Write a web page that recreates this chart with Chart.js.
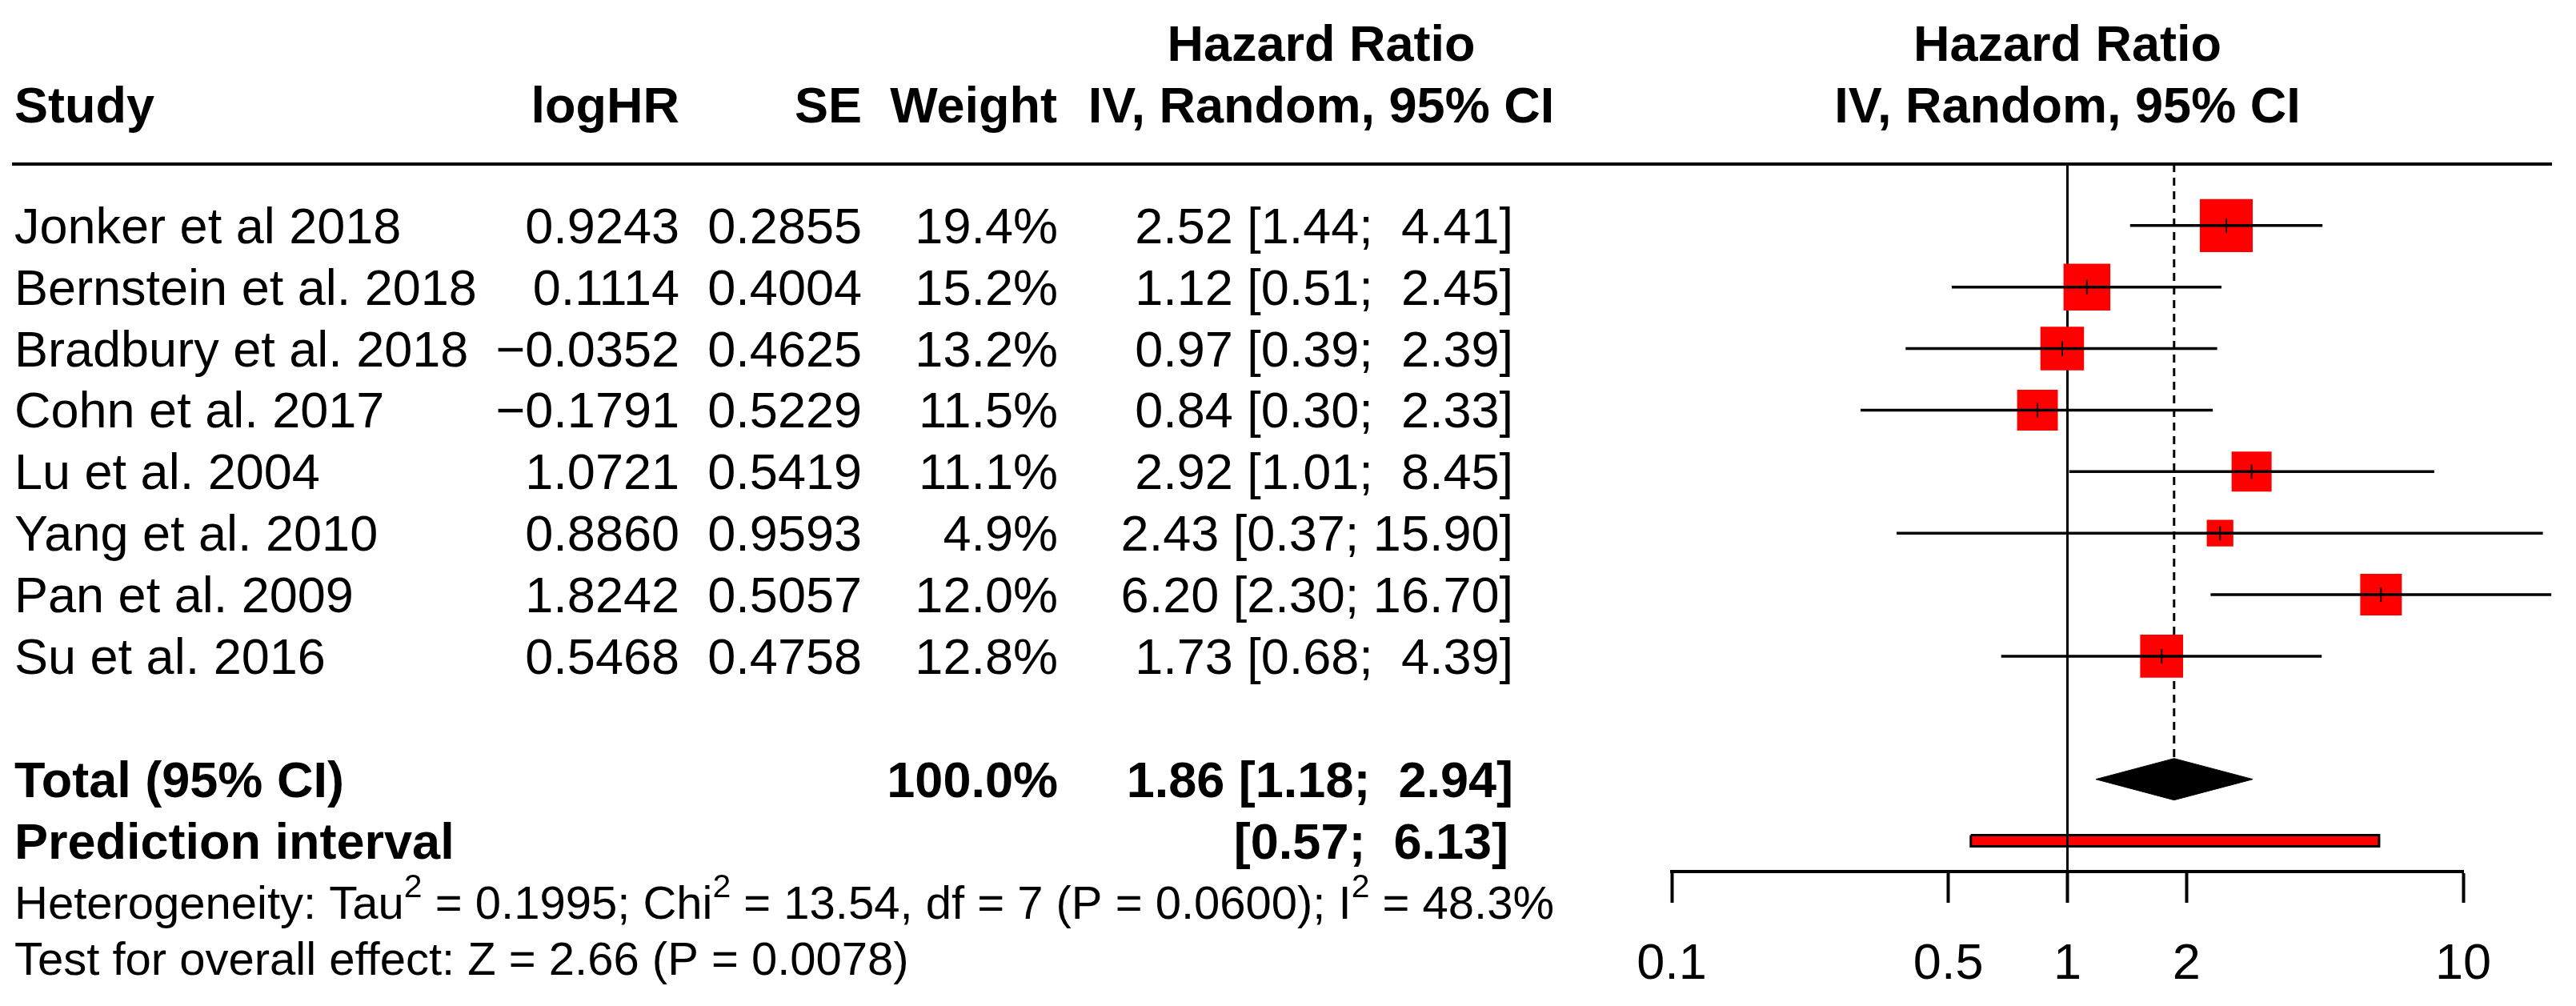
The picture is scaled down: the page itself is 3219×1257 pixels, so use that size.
<!DOCTYPE html>
<html>
<head>
<meta charset="utf-8">
<script src="https://cdn.jsdelivr.net/npm/chart.js@4.4.0/dist/chart.umd.min.js"></script>
<style>
  html, body { margin: 0; padding: 0; background: #fff; }
  canvas { display: block; }
</style>
</head>
<body>
<canvas id="forest" width="3219" height="1257"></canvas>
<script>
// Study data
const studies = ['Jonker et al 2018', 'Bernstein et al. 2018', 'Bradbury et al. 2018', 'Cohn et al. 2017',
                 'Lu et al. 2004', 'Yang et al. 2010', 'Pan et al. 2009', 'Su et al. 2016'];
const logHR = [0.9243, 0.1114, -0.0352, -0.1791, 1.0721, 0.8860, 1.8242, 0.5468];
const seLog = [0.2855, 0.4004, 0.4625, 0.5229, 0.5419, 0.9593, 0.5057, 0.4758];
const weights = [19.4, 15.2, 13.2, 11.5, 11.1, 4.9, 12.0, 12.8];
const hr = [2.52, 1.12, 0.97, 0.84, 2.92, 2.43, 6.20, 1.73];
const ciLow = [1.44, 0.51, 0.39, 0.30, 1.01, 0.37, 2.30, 0.68];
const ciHigh = [4.41, 2.45, 2.39, 2.33, 8.45, 15.90, 16.70, 4.39];

const totalHR = 1.86, totalLow = 1.18, totalHigh = 2.94, totalWeight = 100.0;
const predLow = 0.57, predHigh = 6.13;

const tickVals = [0.1, 0.5, 1, 2, 10];
const tickLabels = ['0.1', '0.5', '1', '2', '10'];

const hetText = [['Heterogeneity: Tau'], ['2', 'sup'], [' = 0.1995; Chi'], ['2', 'sup'],
                 [' = 13.54, df = 7 (P = 0.0600); I'], ['2', 'sup'], [' = 48.3%']];
const testText = 'Test for overall effect: Z = 2.66 (P = 0.0078)';

// rows: studies 0..7, blank 8, total 9, prediction 10
const totalRow = studies.length + 1;
const predRow = studies.length + 2;

const FONT = '"Liberation Sans", Arial, sans-serif';
const FS = 63;
const FS_NOTE = 58;
const diamondH = 0.338;
const predH = 0.091;

const fmt2 = v => v.toFixed(2);
const ciStr = (lo, hi) => '[' + fmt2(lo) + '; ' + (hi < 10 ? ' ' : '') + fmt2(hi) + ']';
const minus = s => s.replace('-', '\u2212');

function txt(ctx, s, x, y, align, bold, size) {
  ctx.font = (bold ? 'bold ' : '') + (size || FS) + 'px ' + FONT;
  ctx.textAlign = align;
  ctx.fillText(s, x, y);
}

const tablePlugin = {
  id: 'table',
  afterDraw(chart) {
    const ctx = chart.ctx;
    const ys = chart.scales.y, xs = chart.scales.x;
    ctx.save();
    ctx.fillStyle = '#000';
    ctx.strokeStyle = '#000';
    ctx.textBaseline = 'alphabetic';

    // header
    const mid = xs.getPixelForValue(1);
    txt(ctx, 'Hazard Ratio', 1651, 76, 'center', true);
    txt(ctx, 'Hazard Ratio', mid, 76, 'center', true);
    txt(ctx, 'Study', 18, 153, 'left', true);
    txt(ctx, 'logHR', 849, 153, 'right', true);
    txt(ctx, 'SE', 1077, 153, 'right', true);
    txt(ctx, 'Weight', 1321, 153, 'right', true);
    txt(ctx, 'IV, Random, 95% CI', 1651, 153, 'center', true);
    txt(ctx, 'IV, Random, 95% CI', mid, 153, 'center', true);

    // rule under header
    ctx.lineWidth = 4;
    ctx.beginPath();
    ctx.moveTo(15, chart.chartArea.top);
    ctx.lineTo(3189, chart.chartArea.top);
    ctx.stroke();

    studies.forEach((s, i) => {
      const by = ys.getPixelForValue(i) + 22;
      txt(ctx, s, 18, by, 'left', false);
      txt(ctx, minus(logHR[i].toFixed(4)), 849, by, 'right', false);
      txt(ctx, seLog[i].toFixed(4), 1077, by, 'right', false);
      txt(ctx, weights[i].toFixed(1) + '%', 1322, by, 'right', false);
      txt(ctx, fmt2(hr[i]) + ' ' + ciStr(ciLow[i], ciHigh[i]), 1891, by, 'right', false);
    });

    let by = ys.getPixelForValue(totalRow) + 22;
    txt(ctx, 'Total (95% CI)', 18, by, 'left', true);
    txt(ctx, totalWeight.toFixed(1) + '%', 1322, by, 'right', true);
    txt(ctx, fmt2(totalHR) + ' ' + ciStr(totalLow, totalHigh), 1891, by, 'right', true);

    by = ys.getPixelForValue(predRow) + 22;
    txt(ctx, 'Prediction interval', 18, by, 'left', true);
    txt(ctx, ciStr(predLow, predHigh), 1885, by, 'right', true);

    // heterogeneity line with superscripts
    let x = 18;
    ctx.textAlign = 'left';
    hetText.forEach(([s, kind]) => {
      if (kind === 'sup') {
        ctx.font = '41px ' + FONT;
        ctx.fillText(s, x, 1148 - 27);
      } else {
        ctx.font = FS_NOTE + 'px ' + FONT;
        ctx.fillText(s, x, 1148);
      }
      x += ctx.measureText(s).width;
    });
    txt(ctx, testText, 18, 1218, 'left', false, FS_NOTE);
    ctx.restore();
  }
};

const lineDs = (data, extra) => Object.assign({
  data, showLine: true, pointRadius: 0, borderColor: '#000', borderWidth: 3.5, clip: false
}, extra);

const datasets = [];
// estimate ticks
datasets.push({
  data: hr.map((v, i) => ({ x: v, y: i })),
  pointStyle: 'line', rotation: 90, pointRadius: 9, borderWidth: 2,
  borderColor: '#000', backgroundColor: '#000', order: 0, clip: false
});
// confidence intervals
studies.forEach((s, i) => {
  datasets.push(lineDs([{ x: ciLow[i], y: i }, { x: ciHigh[i], y: i }], { order: 1 }));
});
// pooled diamond
datasets.push(lineDs([
  { x: totalLow, y: totalRow }, { x: totalHR, y: totalRow - diamondH },
  { x: totalHigh, y: totalRow }, { x: totalHR, y: totalRow + diamondH },
  { x: totalLow, y: totalRow }
], { fill: 'shape', backgroundColor: '#000', borderWidth: 1, order: 1 }));
// weighted squares
datasets.push({
  data: hr.map((v, i) => ({ x: v, y: i })),
  pointStyle: 'rect',
  pointRadius: c => 15 * Math.sqrt(weights[c.dataIndex]) / Math.SQRT2,
  backgroundColor: '#ff0000', borderWidth: 0, order: 2, clip: false
});
// reference lines: no effect and pooled estimate
datasets.push(lineDs([{ x: 1, y: -1 }, { x: 1, y: predRow + 0.5 }], { borderWidth: 3, order: 3 }));
datasets.push(lineDs([{ x: totalHR, y: -1 }, { x: totalHR, y: totalRow - diamondH }],
  { borderDash: [10, 7], borderWidth: 3, order: 3 }));
// prediction interval bar
datasets.push(lineDs([
  { x: predLow, y: predRow - predH }, { x: predHigh, y: predRow - predH },
  { x: predHigh, y: predRow + predH }, { x: predLow, y: predRow + predH },
  { x: predLow, y: predRow - predH }
], { fill: 'shape', backgroundColor: '#ff0000', borderWidth: 3, order: 4 }));

Chart.defaults.font.family = FONT;

new Chart(document.getElementById('forest'), {
  type: 'scatter',
  data: { datasets },
  options: {
    responsive: false,
    animation: false,
    devicePixelRatio: 1,
    layout: { padding: { left: 2089, right: 141, top: 205, bottom: 0 } },
    plugins: { legend: { display: false }, tooltip: { enabled: false } },
    scales: {
      x: {
        type: 'logarithmic',
        min: 0.1,
        max: 10,
        position: 'bottom',
        afterBuildTicks: s => { s.ticks = tickVals.map(v => ({ value: v })); },
        afterFit: s => { s.height = 168; },
        grid: { drawOnChartArea: false, drawTicks: true, tickLength: 39, tickWidth: 4, tickColor: '#000' },
        border: { display: true, color: '#000', width: 4 },
        ticks: {
          autoSkip: false, maxRotation: 0, color: '#000', padding: 40,
          font: { size: FS, family: FONT },
          callback: (v, i) => tickLabels[i]
        }
      },
      y: {
        type: 'linear',
        display: false,
        reverse: true,
        min: -1,
        max: predRow + 0.5
      }
    }
  },
  plugins: [tablePlugin]
});
</script>
</body>
</html>
